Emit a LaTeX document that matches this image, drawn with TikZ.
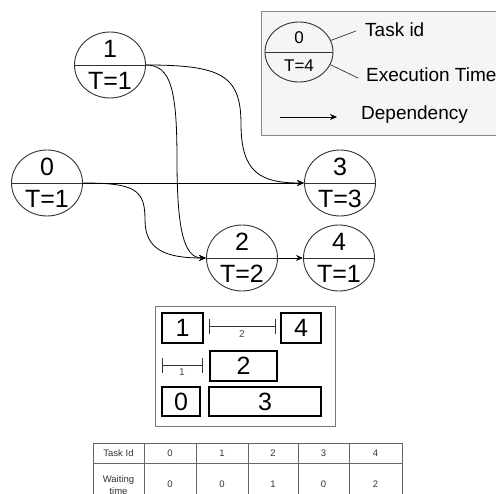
\documentclass[tikz,border=0pt]{standalone}
\usepackage{fontspec}
\setmainfont{Liberation Sans}
\usetikzlibrary{shapes.geometric,arrows.meta,calc}

\definecolor{edgegray}{HTML}{333333}
\definecolor{legendfill}{HTML}{F5F5F5}
\definecolor{legendline}{HTML}{888888}
\definecolor{framegray}{HTML}{777777}
\definecolor{gaplabel}{HTML}{2F4F7F}
\definecolor{tabline}{HTML}{666666}
\definecolor{tabtext}{HTML}{333333}

\tikzset{
  task/.style={ellipse, draw=edgegray, line width=0.9pt, inner sep=0pt,
               minimum width=71, minimum height=66},
  tasktxt/.style={inner sep=0pt, font=\fontsize{25}{28}\selectfont},
  keytask/.style={ellipse, draw=edgegray, line width=0.9pt, inner sep=0pt,
               minimum width=68, minimum height=60},
  keytxt/.style={inner sep=0pt, font=\fontsize{17}{19}\selectfont},
  legendtxt/.style={anchor=west, inner sep=0pt, font=\fontsize{19}{22}\selectfont},
  dep/.style={draw=black, line width=0.8pt, -{Stealth[length=7pt,width=6pt]}},
  slot/.style={draw=black, line width=1.4pt, inner sep=0pt, font=\fontsize{25}{27}\selectfont},
  gap/.style={draw=edgegray, line width=0.7pt},
  gaptxt/.style={inner sep=0pt, text=gaplabel, font=\fontsize{10}{11}\selectfont},
  cell/.style={inner sep=0pt, text=tabtext, font=\fontsize{9.5}{12.5}\selectfont, align=center},
}

\begin{document}
\begin{tikzpicture}[x=1pt, y=-1pt]
\useasboundingbox (0,0) rectangle (496,494);
\clip (0,0) rectangle (496,494);

% ---------- legend ----------
\node[draw=legendline, fill=legendfill, line width=0.8pt, inner sep=0pt,
      minimum width=260, minimum height=124, anchor=north west] (legend) at (261,11) {};
\node[keytask] (kt) at (299,52) {};
\draw[edgegray, line width=0.9pt] (kt.west) -- (kt.east);
\node[keytxt] (ktid) at (299,38) {0};
\node[keytxt] (ktt) at (299,66) {T=4};
\coordinate (kidend) at (356,31);
\coordinate (ktimeend) at (358,78);
\draw[edgegray, line width=0.7pt] (kt.20) -- (kidend);
\draw[edgegray, line width=0.7pt] (kt.-22) -- (ktimeend);
\node[legendtxt] (lid) at (365,30) {Task id};
\node[legendtxt] (ltime) at (366,75) {Execution Time};
\coordinate (depa) at (280,117);
\coordinate (depb) at (337,117);
\draw[dep] (depa) -- (depb);
\node[legendtxt] (ldep) at (361,115) {Dependency};

% ---------- task graph ----------
\foreach \n/\x/\y/\t in {0/47/183/1, 1/110/65/1, 2/242/258/2, 3/340/183/3, 4/339/258/1}{
  \node[task] (n\n) at (\x,\y) {};
  \draw[edgegray, line width=0.9pt] (n\n.west) -- (n\n.east);
  \node[tasktxt] (id\n) at (\x,\y-16) {\n};
  \node[tasktxt] (tm\n) at (\x,\y+16) {T=\t};
}

\coordinate (c02) at (145,220);
\coordinate (c12) at (177,160);
\coordinate (c13) at (241,124);

\draw[dep] (n0.east) -- (n3.west);
\draw[dep] (n2.east) -- (n4.west);
\draw[dep] (n0.east) .. controls +(53,0) and +(0,-30) .. (c02)
                      .. controls +(0,30) and +(-40,0) .. (n2.west);
\draw[dep] (n1.east) .. controls +(25,0) and +(0,-70) .. (c12)
                      .. controls +(0,70) and +(-22,0) .. (n2.west);
\draw[dep] (n1.east) .. controls +(75,0) and +(0,-49) .. (c13)
                      .. controls +(0,49) and +(-43,0) .. (n3.west);

% ---------- schedule ----------
\node[draw=framegray, line width=0.9pt, inner sep=0pt, minimum width=180,
      minimum height=120, anchor=north west] (sched) at (155,306) {};
\node[slot, minimum width=41, minimum height=30] (s1) at (182.5,328) {1};
\node[slot, minimum width=40, minimum height=30] (s4) at (301,328) {4};
\node[slot, minimum width=67, minimum height=30] (s2) at (243.5,366) {2};
\node[slot, minimum width=38, minimum height=29] (s0) at (181,401.5) {0};
\node[slot, minimum width=112, minimum height=29] (s3) at (265,401.5) {3};

% idle gaps
\coordinate (g2a) at (209,326);
\coordinate (g2b) at (275,326);
\draw[gap] (g2a) -- (g2b);
\draw[gap] ($(g2a)+(0,-7)$) -- ($(g2a)+(0,8)$);
\draw[gap] ($(g2b)+(0,-7)$) -- ($(g2b)+(0,8)$);
\node[gaptxt] (g2l) at (242,334) {2};

\coordinate (g1a) at (162,365);
\coordinate (g1b) at (202,365);
\draw[gap] (g1a) -- (g1b);
\draw[gap] ($(g1a)+(0,-7)$) -- ($(g1a)+(0,8)$);
\draw[gap] ($(g1b)+(0,-7)$) -- ($(g1b)+(0,8)$);
\node[gaptxt] (g1l) at (182,372) {1};

% ---------- waiting-time table ----------
\draw[tabline, line width=0.8pt] (93,443) rectangle (402,505);
\draw[tabline, line width=0.8pt] (93,463) -- (402,463);
\foreach \cx in {144,196,248,298,349}{
  \draw[tabline, line width=0.8pt] (\cx,443) -- (\cx,505);
}
\node[cell] (hdr) at (118.5,453) {Task Id};
\node[cell] (wt) at (118.5,485) {Waiting\\time};
\foreach \i/\cx/\w in {0/170/0, 1/222/0, 2/273/1, 3/323.5/0, 4/375.5/2}{
  \node[cell] (h\i) at (\cx,453) {\i};
  \node[cell] (w\i) at (\cx,484) {\w};
}
\end{tikzpicture}
\end{document}
